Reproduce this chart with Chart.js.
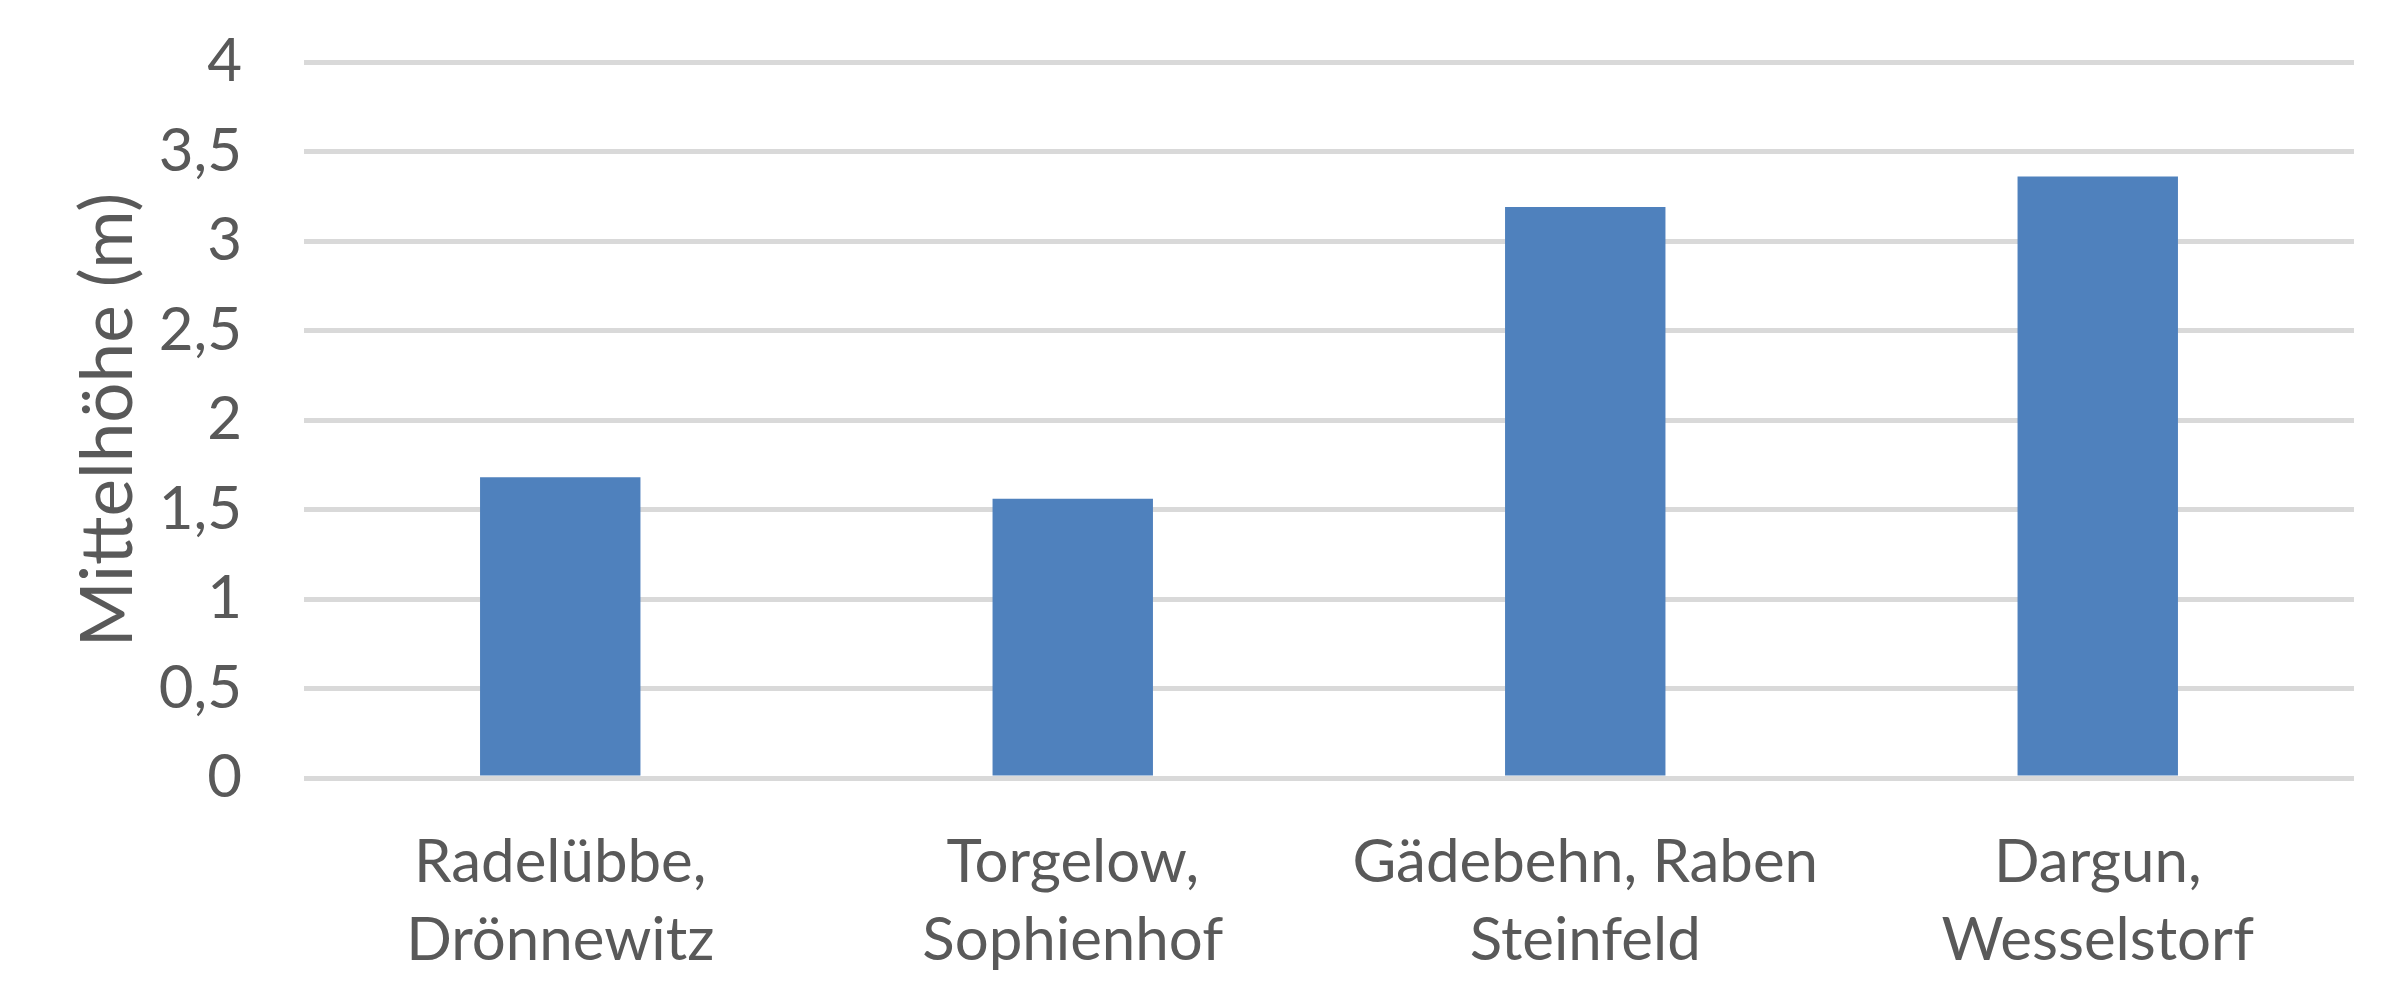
<!DOCTYPE html>
<html>
<head>
<meta charset="utf-8">
<title>Mittelhöhe</title>
<script src="https://cdn.jsdelivr.net/npm/chart.js@4/dist/chart.umd.min.js"></script>
<style>
    html, body { margin: 0; padding: 0; background: #fff; }
    canvas { display: block; }
</style>
</head>
<body>
<canvas id="heightChart" width="2400" height="1005"></canvas>
<script>
// Data
const sites = [
    ['Radelübbe,', 'Drönnewitz'],
    ['Torgelow,', 'Sophienhof'],
    ['Gädebehn, Raben', 'Steinfeld'],
    ['Dargun,', 'Wesselstorf']
];
const meanHeights = [1.68, 1.56, 3.19, 3.36];
const yMin = 0;
const yMax = 4;
const yStep = 0.5;
const yTitle = 'Mittelhöhe (m)';

const textColor = '#595959';
const gridColor = '#d9d9d9';
const barColor = '#4f81bd';
const fontFamily = 'Lato, "Open Sans", sans-serif';

// German decimal comma on the value axis
const formatTick = value => String(value).replace('.', ',');

const ctx = document.getElementById('heightChart').getContext('2d');
const heightChart = new Chart(ctx, {
    type: 'bar',
    data: {
        labels: sites,
        datasets: [{
            label: yTitle,
            data: meanHeights,
            backgroundColor: barColor,
            borderWidth: 0,
            barPercentage: 0.313,
            categoryPercentage: 1
        }]
    },
    options: {
        responsive: false,
        animation: false,
        layout: {
            padding: { top: 62, right: 46, left: 0, bottom: 0 }
        },
        plugins: {
            legend: { display: false },
            tooltip: { enabled: false }
        },
        scales: {
            x: {
                grid: { display: false, drawTicks: false },
                border: { display: false },
                ticks: {
                    color: textColor,
                    padding: 45,
                    maxRotation: 0,
                    autoSkip: false,
                    font: { family: fontFamily, size: 60, lineHeight: 1.307 }
                },
                afterFit: scale => { scale.height = 227; }
            },
            y: {
                min: yMin,
                max: yMax,
                grid: {
                    color: gridColor,
                    lineWidth: 5,
                    drawTicks: false
                },
                border: { display: false },
                ticks: {
                    stepSize: yStep,
                    color: textColor,
                    padding: 62,
                    font: { family: fontFamily, size: 60 },
                    callback: formatTick
                },
                title: {
                    display: true,
                    text: yTitle,
                    color: textColor,
                    padding: { top: 67, bottom: 0 },
                    font: { family: fontFamily, size: 71, lineHeight: 1.2 }
                },
                // fixed axis width; tick padding should not push the plot down
                afterFit: scale => {
                    scale.width = 304;
                    scale.paddingTop = 0;
                    scale.paddingBottom = 0;
                }
            }
        }
    }
});
</script>
</body>
</html>
